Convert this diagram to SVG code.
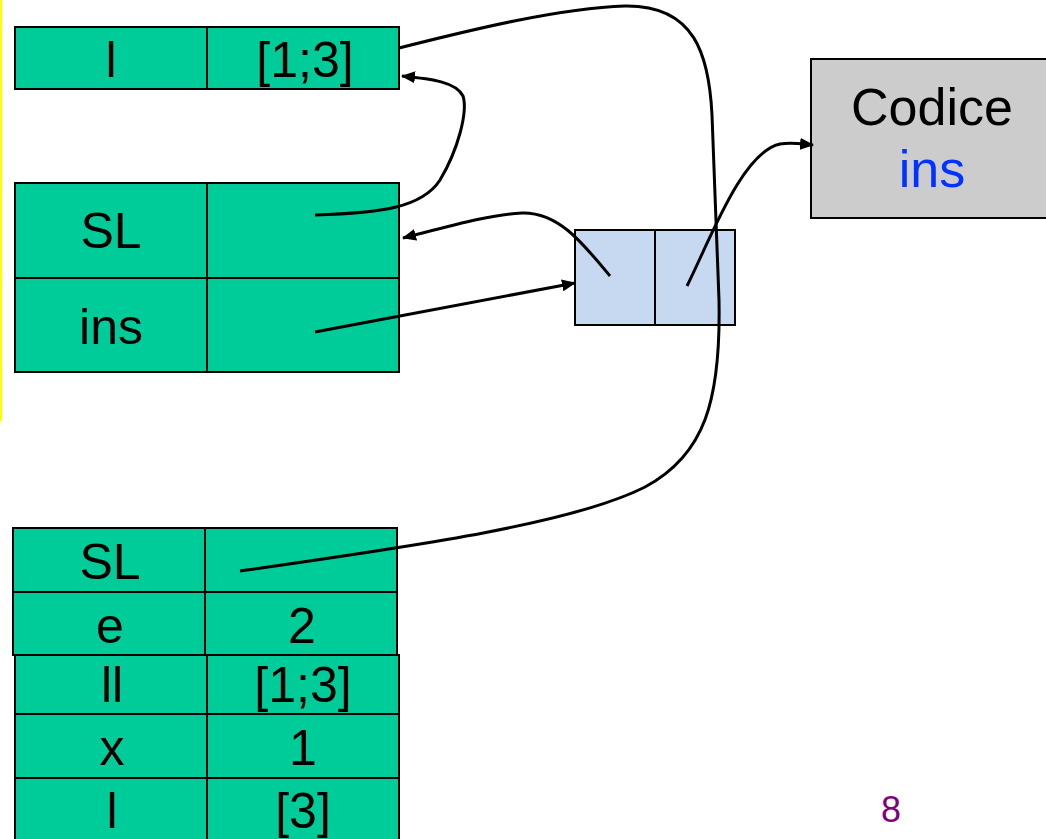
<svg xmlns="http://www.w3.org/2000/svg" width="1046" height="839" viewBox="0 0 1046 839">
  <style>
    .cell { fill: #00CC99; stroke: #000; stroke-width: 2; }
    .node { fill: #C6D9F0; stroke: #000; stroke-width: 2; }
    .code { fill: #CCCCCC; stroke: #000; stroke-width: 2; }
    .t { font-family: "Liberation Sans", Arial, sans-serif; font-size: 50px; fill: #000; text-anchor: middle; }
    .link { fill: none; stroke: #000; stroke-width: 3; }
  </style>
  <defs>
    <marker id="arrow" markerUnits="userSpaceOnUse" markerWidth="14" markerHeight="12" refX="13" refY="6" orient="auto">
      <path d="M0,0 L14,6 L0,12 Z" fill="#000"/>
    </marker>
  </defs>

  <rect width="1046" height="839" fill="#fff"/>
  <!-- left margin rule -->
  <rect x="0" y="0" width="2" height="421" fill="#FFFF00"/>

  <!-- outer frame: l = [1;3] -->
  <g id="frame-top">
    <rect class="cell" x="15" y="27" width="192" height="62"/>
    <rect class="cell" x="207" y="27" width="192" height="62"/>
    <text class="t" x="111" y="77">l</text>
    <text class="t" x="305" y="77">[1;3]</text>
  </g>

  <!-- frame with SL and ins -->
  <g id="frame-mid">
    <rect class="cell" x="15" y="183" width="192" height="95"/>
    <rect class="cell" x="207" y="183" width="192" height="95"/>
    <rect class="cell" x="15" y="278" width="192" height="94"/>
    <rect class="cell" x="207" y="278" width="192" height="94"/>
    <text class="t" x="111" y="248">SL</text>
    <text class="t" x="111" y="344">ins</text>
  </g>

  <!-- closure pair -->
  <g id="closure">
    <rect class="node" x="575" y="230" width="80" height="95"/>
    <rect class="node" x="655" y="230" width="80" height="95"/>
  </g>

  <!-- code block -->
  <g id="code">
    <rect class="code" x="811" y="59" width="250" height="159"/>
    <text class="t" x="932" y="125" style="font-size:52px">Codice</text>
    <text class="t" x="932" y="187" style="font-size:52px;fill:#0033FF">ins</text>
  </g>

  <!-- activation frame of ins -->
  <g id="frame-bottom">
    <rect class="cell" x="13" y="528" width="192" height="64"/>
    <rect class="cell" x="205" y="528" width="192" height="64"/>
    <rect class="cell" x="13" y="592" width="192" height="63"/>
    <rect class="cell" x="205" y="592" width="192" height="63"/>
    <rect class="cell" x="15" y="655" width="192" height="59"/>
    <rect class="cell" x="207" y="655" width="192" height="59"/>
    <rect class="cell" x="15" y="714" width="192" height="64"/>
    <rect class="cell" x="207" y="714" width="192" height="64"/>
    <rect class="cell" x="15" y="778" width="192" height="70"/>
    <rect class="cell" x="207" y="778" width="192" height="70"/>
    <text class="t" x="110" y="579">SL</text>
    <text class="t" x="110" y="643">e</text>
    <text class="t" x="302" y="643">2</text>
    <text class="t" x="112" y="702">ll</text>
    <text class="t" x="303" y="702">[1;3]</text>
    <text class="t" x="112" y="765">x</text>
    <text class="t" x="303" y="765">1</text>
    <text class="t" x="112" y="828">l</text>
    <text class="t" x="303" y="828">[3]</text>
  </g>

  <g id="connectors">
    <!-- static link of the bottom frame -->
    <path class="link" d="M240,571 C400,548 570,525 645,487 C705,455 721,400 719,300 L712,115 C709,55 695,5 625,6 C560,8 470,30 399,48"/>
    <!-- SL of middle frame to top frame -->
    <path class="link" marker-end="url(#arrow)" d="M315,215 C380,213 422,208 440,180 C458,150 468,112 463,96 C456,82 432,79 402,76"/>
    <!-- closure environment pointer -->
    <path class="link" marker-end="url(#arrow)" d="M610,276 C582,242 558,212 522,213 C492,214 450,226 403,238"/>
    <!-- ins to closure -->
    <path class="link" marker-end="url(#arrow)" d="M315,332 L575,283"/>
    <!-- closure code pointer -->
    <path class="link" marker-end="url(#arrow)" d="M687,286 C710,240 742,152 780,144 C792,142 802,144 813,145"/>
  </g>

  <text x="891" y="822" style="font-family:'Liberation Sans',Arial,sans-serif;font-size:36px;fill:#800080;text-anchor:middle">8</text>
</svg>
